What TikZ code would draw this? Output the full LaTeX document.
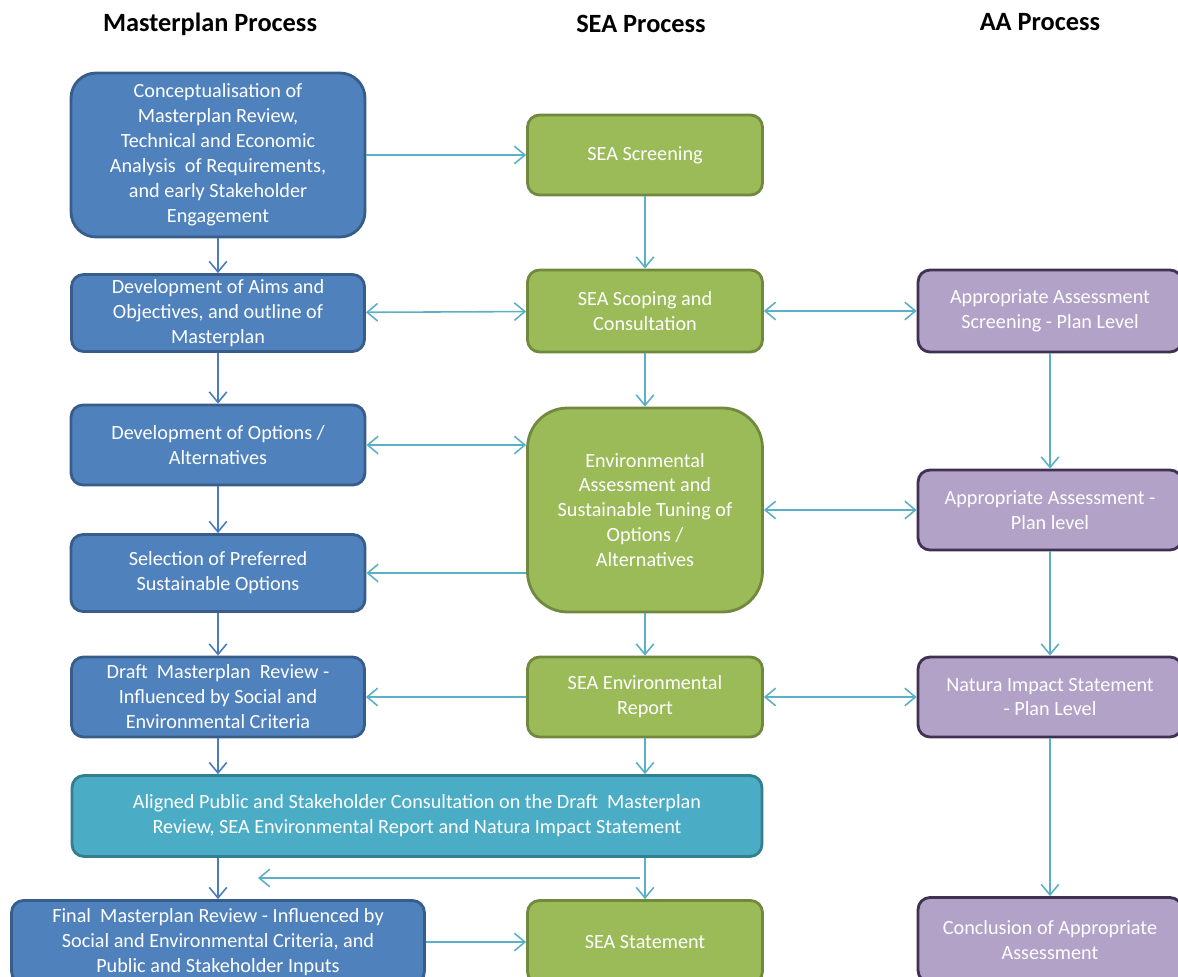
\documentclass[tikz,border=0pt]{standalone}
\usepackage{fontspec}
\setmainfont{Carlito}
\usetikzlibrary{arrows.meta}

\definecolor{mpblue}{HTML}{4F81BD}
\definecolor{mpblueline}{HTML}{385D8A}
\definecolor{seagreen}{HTML}{9BBB59}
\definecolor{seagreenline}{HTML}{71893F}
\definecolor{consteal}{HTML}{4BACC6}
\definecolor{consttealline}{HTML}{357D91}
\definecolor{aapurple}{HTML}{B2A2C7}
\definecolor{aapurpleline}{HTML}{3F3151}
\definecolor{linkteal}{HTML}{5BB0C8}
\definecolor{linkblue}{HTML}{4A7EBB}

\begin{document}
\begin{tikzpicture}[x=0.02cm, y=-0.02cm,
    box/.style={rounded corners=0.24cm, line width=1.6pt, text=white, align=center,
        font=\fontsize{11.5}{14.2}\selectfont, inner sep=2pt},
    mpbox/.style={box, fill=mpblue, draw=mpblueline},
    seabox/.style={box, fill=seagreen, draw=seagreenline},
    aabox/.style={box, fill=aapurple, draw=aapurpleline},
    conbox/.style={box, fill=consteal, draw=consttealline},
    head/.style={font=\fontsize{15}{17}\selectfont\bfseries},
    link/.style={linkteal, line width=0.9pt, -{Straight Barb[length=6pt, width=10pt]}},
    twolink/.style={link, {Straight Barb[length=6pt, width=10pt]}-{Straight Barb[length=6pt, width=10pt]}},
    downlink/.style={link, linkblue}]
    \useasboundingbox (0,0) rectangle (1178,977);
    \clip (0,0) rectangle (1178,977);

    % Column titles
    \node[head] (mphead) at (210,24) {Masterplan Process};
    \node[head] (seahead) at (641,24) {SEA Process};
    \node[head] (aahead) at (1040,22) {AA Process};

    % Masterplan column
    \node[mpbox, rounded corners=0.5cm, minimum width=5.88cm, minimum height=3.28cm] (concept) at (218,155)
        {Conceptualisation of\\Masterplan Review,\\Technical and Economic\\Analysis\ \ of Requirements,\\and early Stakeholder\\Engagement};
    \node[mpbox, minimum width=5.86cm, minimum height=1.54cm] (aims) at (218,313)
        {Development of Aims and\\Objectives, and outline of\\Masterplan};
    \node[mpbox, minimum width=5.88cm, minimum height=1.6cm] (options) at (218,445)
        {Development of Options /\\Alternatives};
    \node[mpbox, minimum width=5.88cm, minimum height=1.54cm] (prefer) at (218,573)
        {Selection of Preferred\\Sustainable Options};
    \node[mpbox, minimum width=5.86cm, minimum height=1.6cm] (draft) at (218,697)
        {Draft\ \ Masterplan\ \ Review -\\Influenced by Social and\\Environmental Criteria};
    \node[conbox, minimum width=13.8cm, minimum height=1.62cm] (consult) at (417,816)
        {Aligned Public and Stakeholder Consultation on the Draft\ \ Masterplan\\Review, SEA Environmental Report and Natura Impact Statement};
    \node[mpbox, minimum width=8.26cm, minimum height=1.66cm] (final) at (218,942)
        {Final\ \ Masterplan Review - Influenced by\\Social and Environmental Criteria, and\\Public and Stakeholder Inputs};

    % SEA column
    \node[seabox, minimum width=4.7cm, minimum height=1.6cm] (screen) at (645,155) {SEA Screening};
    \node[seabox, minimum width=4.7cm, minimum height=1.64cm] (scope) at (645,311)
        {SEA Scoping and\\Consultation};
    \node[seabox, rounded corners=0.8cm, minimum width=4.7cm, minimum height=4.08cm] (tune) at (645,510)
        {Environmental\\Assessment and\\Sustainable Tuning of\\Options /\\Alternatives};
    \node[seabox, minimum width=4.7cm, minimum height=1.6cm] (report) at (645,697)
        {SEA Environmental\\Report};
    \node[seabox, minimum width=4.7cm, minimum height=1.66cm] (statement) at (645,942) {SEA Statement};

    % AA column
    \node[aabox, minimum width=5.28cm, minimum height=1.64cm] (aascreen) at (1050,311)
        {Appropriate Assessment\\Screening - Plan Level};
    \node[aabox, minimum width=5.28cm, minimum height=1.6cm] (aaplan) at (1050,510)
        {Appropriate Assessment -\\Plan level};
    \node[aabox, minimum width=5.28cm, minimum height=1.6cm] (nis) at (1050,697)
        {Natura Impact Statement\\- Plan Level};
    \node[aabox, minimum width=5.28cm, minimum height=1.7cm] (conclude) at (1050,940)
        {Conclusion of Appropriate\\Assessment};

    % Links down the masterplan column
    \draw[downlink] (concept) -- (aims);
    \draw[downlink] (aims) -- (options);
    \draw[downlink] (options) -- (prefer);
    \draw[downlink] (prefer) -- (draft);
    \draw[downlink] (draft.south) -- (draft.south |- consult.north);
    \draw[downlink] (final.north |- consult.south) -- (final.north);

    % Links down the SEA and AA columns
    \draw[link] (screen) -- (scope);
    \draw[link] (scope) -- (tune);
    \draw[link] (tune) -- (report);
    \draw[link] (report.south) -- (report.south |- consult.north);
    \draw[link] (statement.north |- consult.south) -- (statement.north);
    \draw[link] (aascreen) -- (aaplan);
    \draw[link] (aaplan) -- (nis);
    \draw[link] (nis) -- (conclude);

    % Links across
    \draw[link] (concept) -- (screen);
    \draw[twolink] (aims) -- (scope);
    \draw[twolink] (scope) -- (aascreen);
    \draw[twolink] (options.east) -- (options.east -| tune.west);
    \draw[twolink] (tune) -- (aaplan);
    \draw[link] (tune.west |- prefer) -- (prefer.east);
    \draw[link] (report) -- (draft);
    \draw[twolink] (report) -- (nis);
    \draw[link] (final) -- (statement);

    % Return line under the consultation
    \coordinate (backR) at (640,878);
    \coordinate (backL) at (258,878);
    \draw[link] (backR) -- (backL);
\end{tikzpicture}
\end{document}
